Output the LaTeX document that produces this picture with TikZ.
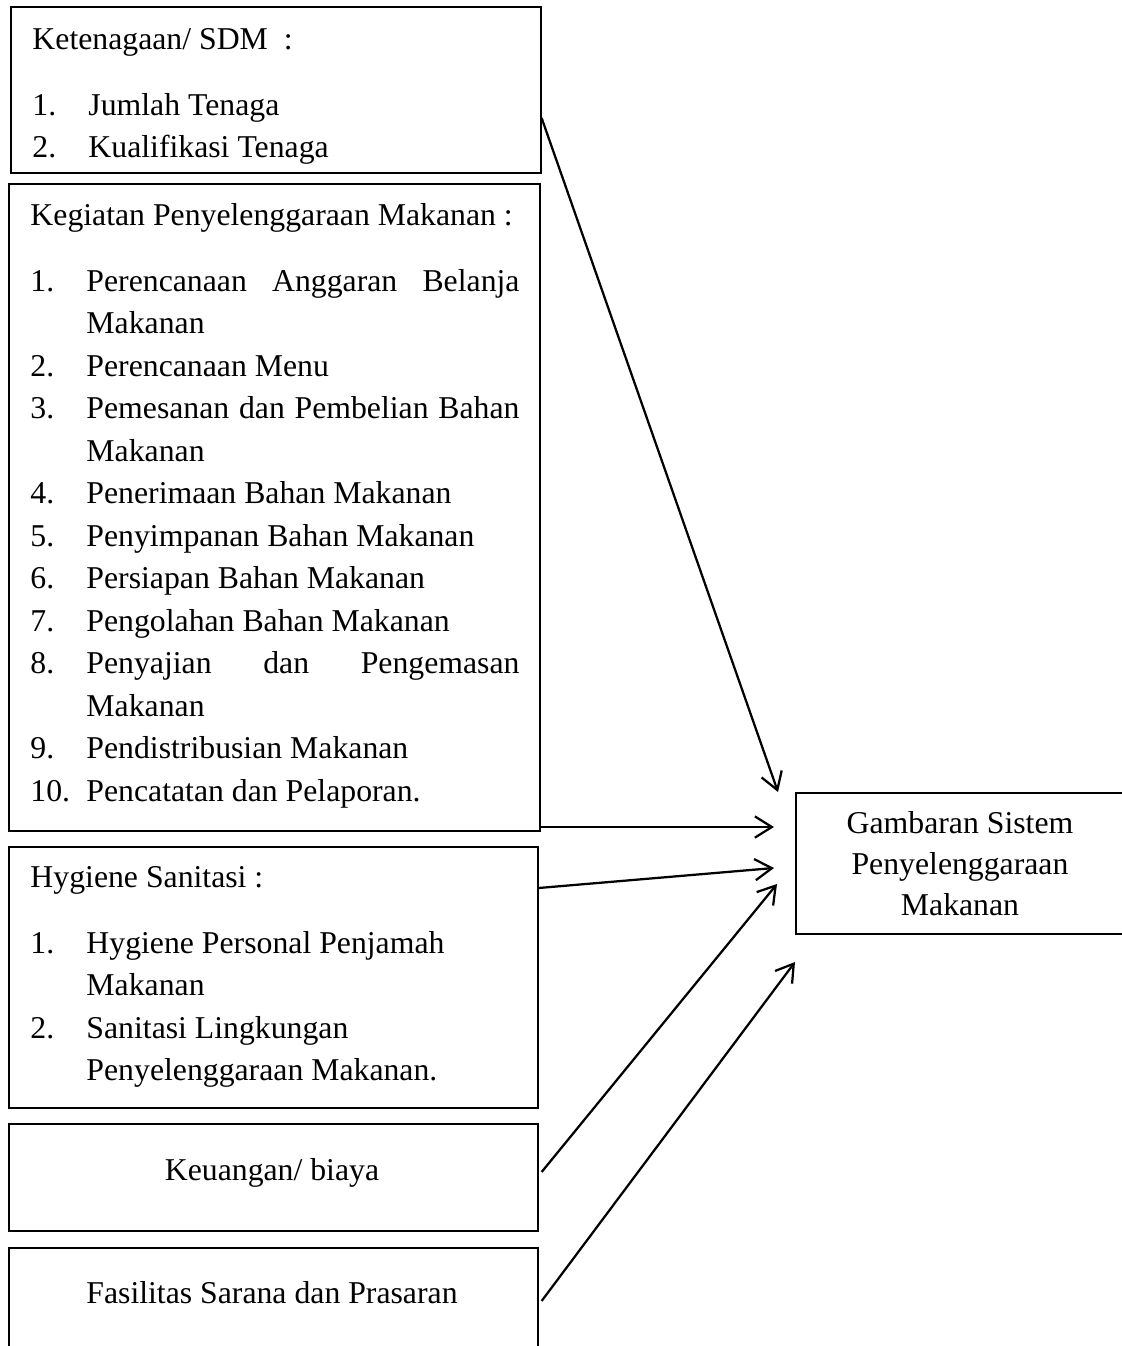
\documentclass[tikz,border=0pt]{standalone}
\usepackage{fontspec}
\setmainfont{Liberation Serif}
\usetikzlibrary{arrows.meta}
\tikzset{
  box/.style={draw, line width=0.65pt, anchor=north west, inner sep=0pt},
  listtext/.style={anchor=base west, inner sep=0pt},
  midtext/.style={anchor=base, inner sep=0pt},
  link/.style={line width=0.9pt, -{Straight Barb[length=6.8pt,width=8.5pt]}},
}
\newcommand{\numlist}[1]{\begin{tabular}[t]{@{}p{22.4pt}@{}p{173.2pt}@{}}#1\end{tabular}}
\newcommand{\listhead}[1]{\multicolumn{2}{@{}l@{}}{#1}\\[9.4pt]}
\begin{document}
\begin{tikzpicture}[x=0.4pt,y=-0.4pt,font=\fontsize{12.7pt}{17pt}\selectfont]
\useasboundingbox (0,0) rectangle (1121,1346);
% boxes on the left
\node[box, minimum width=212pt, minimum height=66.4pt] (sdm) at (10,6) {};
\node[box, minimum width=212.4pt, minimum height=258.8pt] (kpm) at (8,183) {};
\node[box, minimum width=211.6pt, minimum height=104.4pt] (hs) at (8,846) {};
\node[box, minimum width=211.6pt, minimum height=42.8pt] (kb) at (8,1123) {};
\node[box, minimum width=211.6pt, minimum height=48pt] (fsp) at (8,1247) {};
% texts of the boxes
\node[listtext] (sdmlist) at (32,49) {\numlist{%
  \listhead{Ketenagaan/ SDM\ \ :}
  1. & Jumlah Tenaga\\
  2. & Kualifikasi Tenaga}};
\node[listtext] (kpmlist) at (30,225) {\numlist{%
  \listhead{Kegiatan Penyelenggaraan Makanan :}
  1.  & Perencanaan\hfill Anggaran\hfill Belanja\\
      & Makanan\\
  2.  & Perencanaan Menu\\
  3.  & Pemesanan\hfill dan\hfill Pembelian\hfill Bahan\\
      & Makanan\\
  4.  & Penerimaan Bahan Makanan\\
  5.  & Penyimpanan Bahan Makanan\\
  6.  & Persiapan Bahan Makanan\\
  7.  & Pengolahan Bahan Makanan\\
  8.  & Penyajian\hfill dan\hfill Pengemasan\\
      & Makanan\\
  9.  & Pendistribusian Makanan\\
  10. & Pencatatan dan Pelaporan.}};
\node[listtext] (hslist) at (30,887) {\numlist{%
  \listhead{Hygiene Sanitasi :}
  1. & Hygiene Personal Penjamah\\
     & Makanan\\
  2. & Sanitasi Lingkungan\\
     & Penyelenggaraan Makanan.}};
\node[midtext] (kbtext) at (272,1180) {Keuangan/ biaya};
\node[midtext] (fsptext) at (272,1303) {Fasilitas Sarana dan Prasaran};
% box on the right
\node[draw, line width=0.65pt, inner sep=0pt, align=center,
      minimum width=131.2pt, minimum height=56.4pt,
      font=\fontsize{12.7pt}{16.4pt}\selectfont] (gsp) at (960,863.5)
  {Gambaran Sistem\\Penyelenggaraan\\Makanan};
% arrow tips
\coordinate (tip1) at (778,792);
\coordinate (tip2) at (774,827);
\coordinate (tip3) at (774,868);
\coordinate (tip4) at (777,884);
\coordinate (tip5) at (795,962);
\draw[link] (sdm.east |- 0,118) -- (tip1);
\draw[link] (kpm.east |- 0,827) -- (tip2);
\draw[link] (hs.east |- 0,888) -- (tip3);
\draw[link] ([xshift=1.2pt]kb.east |- 0,1172) -- (tip4);
\draw[link] ([xshift=1.2pt]fsp.east |- 0,1301) -- (tip5);
\end{tikzpicture}
\end{document}
